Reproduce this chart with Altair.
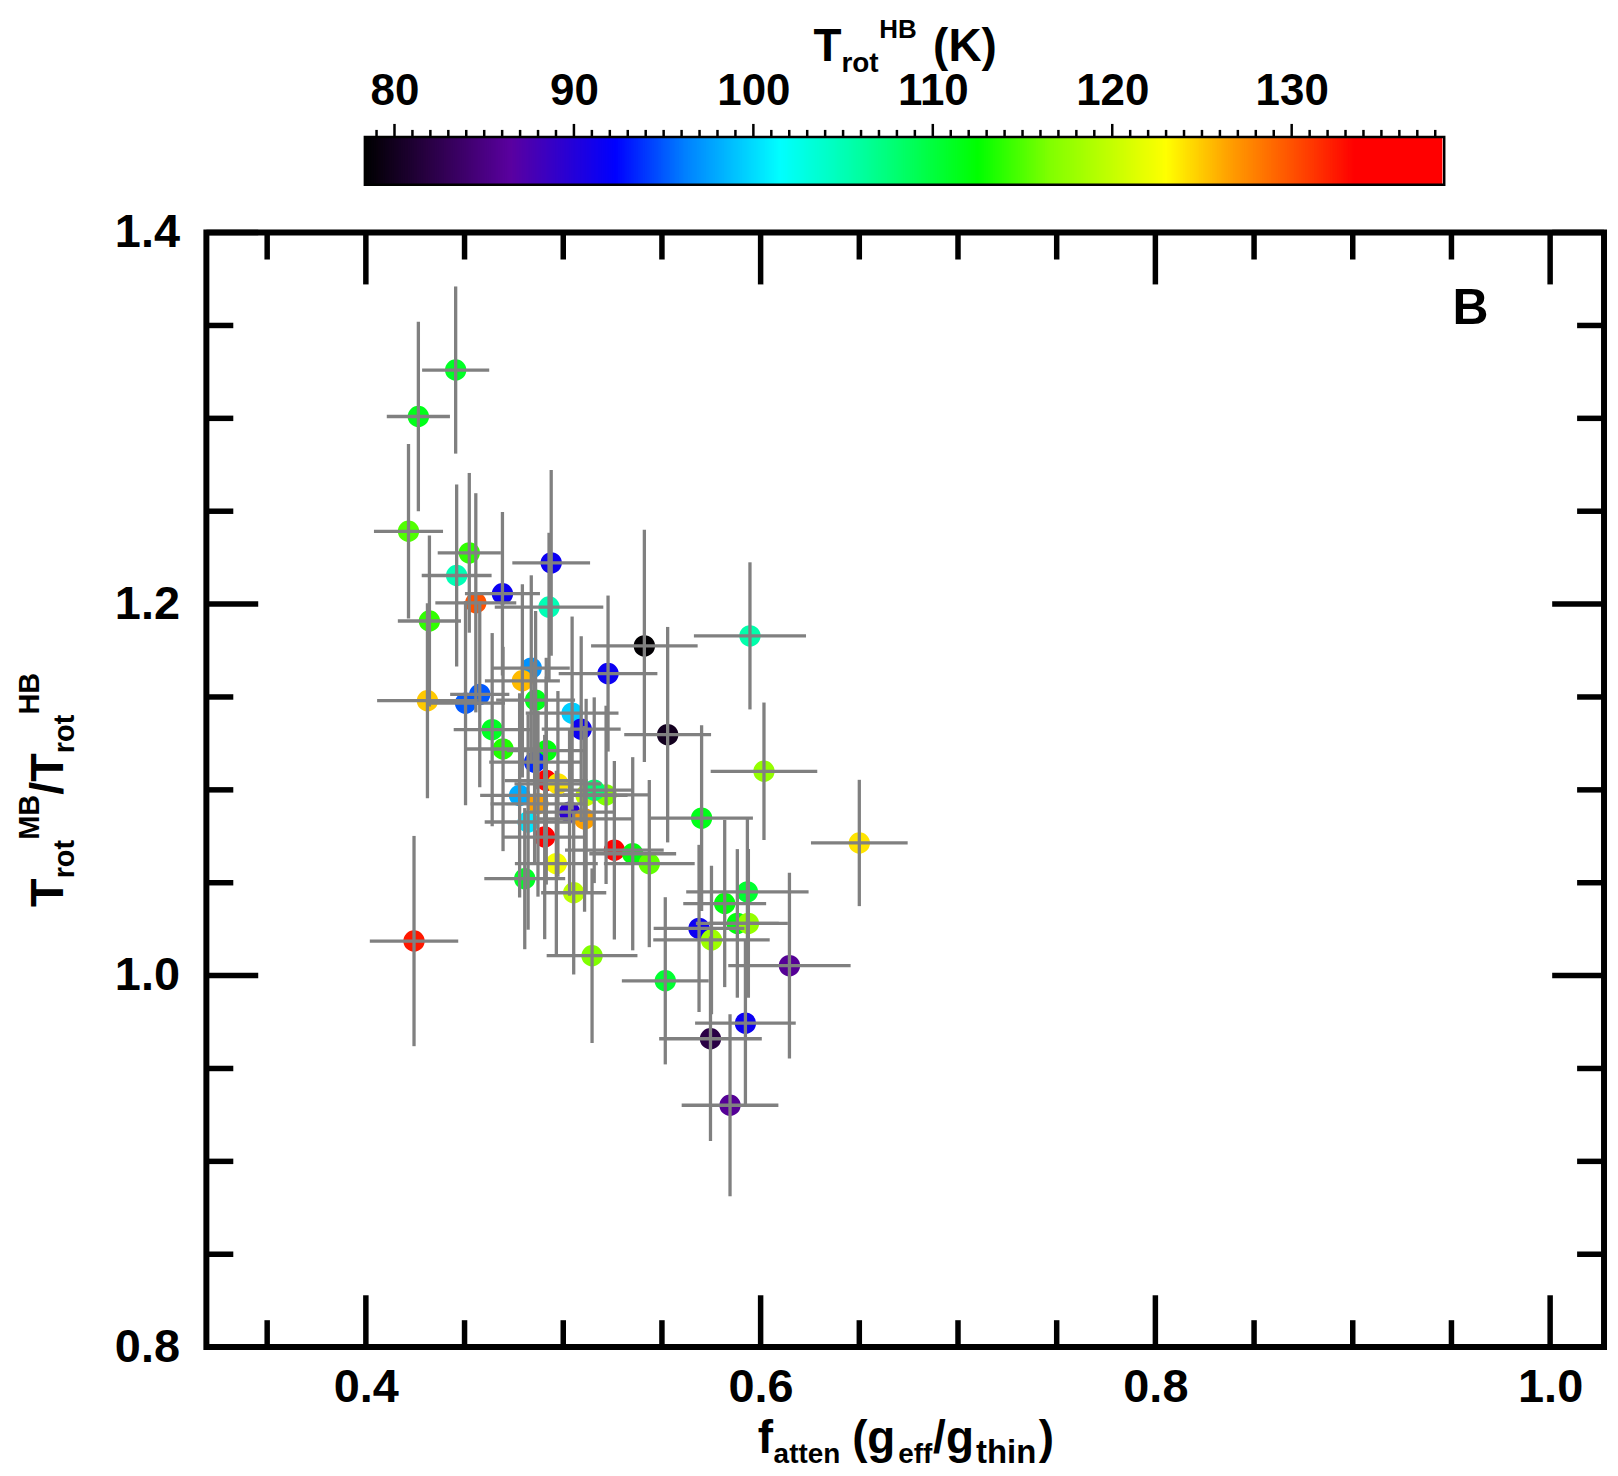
import altair as alt
import numpy as np
import pandas as pd

# ---------------- data ----------------
X = [0.4455, 0.4266, 0.4216, 0.4524, 0.4460, 0.4692, 0.4557, 0.4939, 0.4928, 0.4322,
     0.5411, 0.5227, 0.5946, 0.4838, 0.4793, 0.4312, 0.4505, 0.4577, 0.4860, 0.5045,
     0.5091, 0.5529, 0.4640, 0.4695, 0.4914, 0.4855, 0.6017, 0.4914, 0.4973, 0.4779,
     0.4872, 0.5116, 0.5217, 0.5157, 0.5032, 0.5108, 0.4822, 0.5701, 0.4906, 0.5259,
     0.5352, 0.5436, 0.4965, 0.6500, 0.4805, 0.5053, 0.5933, 0.5818, 0.5882, 0.5938,
     0.5688, 0.5751, 0.5146, 0.5517, 0.6146, 0.4244, 0.5923, 0.5746, 0.5845]
Y = [1.3260, 1.3010, 1.2392, 1.2276, 1.2154, 1.2056, 1.2007, 1.2222, 1.1984, 1.1909,
     1.1775, 1.1626, 1.1829, 1.1655, 1.1587, 1.1480, 1.1467, 1.1514, 1.1483, 1.1413,
     1.1327, 1.1297, 1.1324, 1.1220, 1.1211, 1.1149, 1.1100, 1.1050, 1.1032, 1.0970,
     1.0925, 1.0970, 1.0973, 1.0998, 1.0880, 1.0844, 1.0827, 1.0848, 1.0746, 1.0675,
     1.0656, 1.0603, 1.0603, 1.0714, 1.0522, 1.0446, 1.0451, 1.0388, 1.0281, 1.0281,
     1.0254, 1.0192, 1.0107, 0.9972, 1.0054, 1.0186, 0.9744, 0.9660, 0.9302]
XERR = [0.017, 0.016, 0.0175, 0.016, 0.0177, 0.019, 0.0205, 0.0197, 0.0275, 0.016,
        0.027, 0.025, 0.0284, 0.0195, 0.019, 0.0255, 0.02, 0.015, 0.02, 0.0235,
        0.02, 0.022, 0.0195, 0.019, 0.02, 0.023, 0.027, 0.021, 0.022, 0.02,
        0.024, 0.021, 0.022, 0.02, 0.023, 0.024, 0.022, 0.026, 0.021, 0.025,
        0.022, 0.023, 0.021, 0.0245, 0.0205, 0.0165, 0.031, 0.021, 0.021, 0.02,
        0.023, 0.0295, 0.023, 0.022, 0.031, 0.0224, 0.0255, 0.026, 0.0245]
YERR = [0.045, 0.051, 0.047, 0.043, 0.049, 0.044, 0.059, 0.05, 0.04, 0.046,
        0.0625, 0.042, 0.0396, 0.05, 0.052, 0.0525, 0.055, 0.05, 0.048, 0.052,
        0.05, 0.058, 0.052, 0.055, 0.05, 0.054, 0.037, 0.056, 0.05, 0.055,
        0.05, 0.052, 0.048, 0.05, 0.045, 0.05, 0.058, 0.05, 0.055, 0.048,
        0.052, 0.045, 0.05, 0.034, 0.038, 0.044, 0.04, 0.045, 0.04, 0.04,
        0.045, 0.04, 0.047, 0.045, 0.05, 0.0566, 0.045, 0.055, 0.049]
TROT = [111, 111.5, 115, 114, 105, 91.5, 130, 91.5, 105, 114,
        78.5, 91.5, 105.5, 97, 125.5, 125, 95, 95, 111.5, 99.5,
        91.5, 80, 111, 113.5, 112, 93.5, 117.5, 135, 124, 98,
        126.5, 120, 116.5, 108, 89.5, 126.5, 100.5, 111.5, 135, 135,
        112, 115.5, 122.5, 124, 111, 119.5, 110.5, 112, 112, 117.5,
        91.5, 118, 116.5, 110.5, 86, 132.5, 91.5, 82, 86]

# axis ticks / labels
X_MAJOR = [0.4, 0.6, 0.8, 1.0]
X_MINOR = [0.35, 0.45, 0.5, 0.55, 0.65, 0.7, 0.75, 0.85, 0.9, 0.95]
Y_MAJOR = [0.8, 1.0, 1.2, 1.4]
Y_MINOR = [0.85, 0.9, 0.95, 1.05, 1.1, 1.15, 1.25, 1.3, 1.35]
CB_MAJOR = [80, 90, 100, 110, 120, 130]
CB_MINOR = [t for t in range(79, 139) if t % 10 != 0]
CB_RANGE = [78.35, 138.5]       # colour bar extent (K)
CB_RAMP_END = 138.39            # coloured part ends here (thin white sliver after)

# colour table (rainbow with black start)
C_STOPS = [78.35, 82, 86.5, 92.3, 96.2, 101.5, 106, 112.5, 116.5, 123, 126.5, 130.8, 133.5, 138.5]
C_COLORS = ["#000000", "#2a0045", "#5a00a0", "#0000ff", "#0080ff", "#00ffff", "#00ffa0",
            "#00ff00", "#80ff00", "#ffff00", "#ffa000", "#ff4000", "#ff0000", "#ff0000"]

# ---------------- layout ----------------
FONT = "Liberation Sans, Arial, Helvetica, sans-serif"
W, H = 1402, 1118
XDOM = [0.3192, 1.0273]
YDOM = [0.8, 1.4]
CB_DOM = [69.517, 147.406]
CB_H = 48
MAJ, MIN_ = 52, 27
TICKW = 5.5

df = pd.DataFrame(dict(x=X, y=Y, xe=XERR, ye=YERR, T=TROT))

xs = alt.Scale(domain=XDOM, nice=False, zero=False)
ys = alt.Scale(domain=YDOM, nice=False, zero=False)
cs = alt.Scale(domain=C_STOPS, range=C_COLORS, interpolate="rgb")

X_AX = alt.Axis(values=X_MAJOR, format=".1f", ticks=False, domain=False, grid=False,
                labelFont=FONT, labelFontSize=47, labelFontWeight="bold", labelColor="black",
                labelPadding=18, title=None)
Y_AX = alt.Axis(values=Y_MAJOR, format=".1f", ticks=False, domain=False, grid=False,
                labelFont=FONT, labelFontSize=47, labelFontWeight="bold", labelColor="black",
                labelPadding=27, title=None)


def one():
    return alt.Data(values=[{"k": 0}])


def piece(txt, x, y, size, angle=0):
    return alt.Chart(one()).mark_text(
        text=txt, font=FONT, fontSize=size, fontWeight="bold", align="left",
        baseline="alphabetic", angle=angle, color="black"
    ).encode(x=alt.value(x), y=alt.value(y))


base = alt.Chart(df)
points = base.mark_circle(size=460, opacity=1).encode(
    x=alt.X("x:Q", scale=xs, axis=X_AX),
    y=alt.Y("y:Q", scale=ys, axis=Y_AX),
    color=alt.Color("T:Q", scale=cs, legend=None),
)
xbars = base.mark_rule(color="#808080", strokeWidth=3.3).transform_calculate(
    xlo="datum.x - datum.xe", xhi="datum.x + datum.xe"
).encode(x=alt.X("xlo:Q", scale=xs, axis=X_AX), x2="xhi:Q", y=alt.Y("y:Q", scale=ys, axis=Y_AX))
ybars = base.mark_rule(color="#808080", strokeWidth=3.3).transform_calculate(
    ylo="datum.y - datum.ye", yhi="datum.y + datum.ye"
).encode(x=alt.X("x:Q", scale=xs, axis=X_AX), y=alt.Y("ylo:Q", scale=ys, axis=Y_AX), y2="yhi:Q")


def xticks(vals, length):
    d = alt.Chart(pd.DataFrame({"v": vals}))
    bot = d.mark_rule(color="black", strokeWidth=TICKW).encode(
        x=alt.X("v:Q", scale=xs, axis=X_AX), y=alt.value(H), y2=alt.value(H - length))
    top = d.mark_rule(color="black", strokeWidth=TICKW).encode(
        x=alt.X("v:Q", scale=xs, axis=X_AX), y=alt.value(0), y2=alt.value(length))
    return [bot, top]


def yticks(vals, length):
    d = alt.Chart(pd.DataFrame({"v": vals}))
    lft = d.mark_rule(color="black", strokeWidth=TICKW).encode(
        y=alt.Y("v:Q", scale=ys, axis=Y_AX), x=alt.value(0), x2=alt.value(length))
    rgt = d.mark_rule(color="black", strokeWidth=TICKW).encode(
        y=alt.Y("v:Q", scale=ys, axis=Y_AX), x=alt.value(W), x2=alt.value(W - length))
    return [lft, rgt]


# y title  T_rot^MB / T_rot^HB  (rotated)
ytitle = [
    piece("T", -144, 676.5, 47, 270),
    piece("rot", -133, 647.8, 29, 270),
    piece("MB", -168, 609.1, 29, 270),
    piece("/", -144, 564.0, 47, 270),
    piece("T", -144, 550.9, 47, 270),
    piece("rot", -133, 522.2, 29, 270),
    piece("HB", -168, 483.5, 29, 270),
]
# x title  f_atten (g_eff/g_thin)
xtitle = [
    piece("f", 553, 1224, 46),
    piece("atten", 569, 1234, 28),
    piece("(", 648, 1224, 46),
    piece("g", 663, 1224, 46),
    piece("eff", 694, 1234, 28),
    piece("/", 729, 1224, 46),
    piece("g", 742, 1224, 46),
    piece("thin", 772, 1234, 33),
    piece(")", 835, 1224, 46),
]
panel = alt.Chart(one()).mark_text(
    text="B", font=FONT, fontSize=50, fontWeight="bold", align="center", baseline="alphabetic", color="black"
).encode(x=alt.value(1268), y=alt.value(92))

# invisible anchor fixing the page origin (top-left of the drawing)
anchor = alt.Chart(one()).mark_rect(color="white").encode(
    x=alt.value(-196), x2=alt.value(-195), y=alt.value(-220), y2=alt.value(-219))

main = alt.layer(
    anchor, points, xbars, ybars,
    *xticks(X_MAJOR, MAJ), *xticks(X_MINOR, MIN_),
    *yticks(Y_MAJOR, MAJ), *yticks(Y_MINOR, MIN_),
    panel, *xtitle, *ytitle,
).properties(width=W, height=H, view=alt.ViewBackground(stroke="black", strokeWidth=6))

# ---------------- colour bar ----------------
cbx = alt.Scale(domain=CB_DOM, nice=False, zero=False)
CB_AX = alt.Axis(orient="top", values=CB_MAJOR, format="d", ticks=False, domain=False, grid=False,
                 labelFont=FONT, labelFontSize=44, labelFontWeight="bold", labelColor="black",
                 labelPadding=23, title=None)

t0 = np.round(np.arange(CB_RANGE[0], CB_RAMP_END, 0.1), 3)
ramp_df = pd.DataFrame({"t0": t0, "t1": np.minimum(t0 + 0.15, CB_RAMP_END), "T": t0 + 0.05})
ramp = alt.Chart(ramp_df).mark_rect().encode(
    x=alt.X("t0:Q", scale=cbx, axis=CB_AX), x2="t1:Q",
    y=alt.value(0), y2=alt.value(CB_H),
    color=alt.Color("T:Q", scale=cs, legend=None),
)
border = alt.Chart(pd.DataFrame({"a": [CB_RANGE[0]], "b": [CB_RANGE[1]]})).mark_rect(
    filled=False, color="black", strokeWidth=2.5
).encode(x=alt.X("a:Q", scale=cbx, axis=CB_AX), x2="b:Q", y=alt.value(0), y2=alt.value(CB_H))
cb_major = alt.Chart(pd.DataFrame({"v": CB_MAJOR})).mark_rule(color="black", strokeWidth=2.5).encode(
    x=alt.X("v:Q", scale=cbx, axis=CB_AX), y=alt.value(-13), y2=alt.value(0))
cb_minor = alt.Chart(pd.DataFrame({"v": CB_MINOR})).mark_rule(color="black", strokeWidth=2.5).encode(
    x=alt.X("v:Q", scale=cbx, axis=CB_AX), y=alt.value(-7), y2=alt.value(0))
cbtitle = [
    piece("T", 609, -76, 46),
    piece("rot", 637, -65, 28),
    piece("HB", 675, -99, 26),
    piece("(K)", 729, -76, 46),
]
cbar = alt.layer(ramp, border, cb_major, cb_minor, *cbtitle).properties(
    width=W, height=CB_H, view=alt.ViewBackground(stroke="transparent", strokeWidth=0))

chart = alt.vconcat(cbar, main, spacing=48, bounds="flush").properties(
    padding=0
).configure(font=FONT, background="white")

chart.save("out.html", embed_options={"renderer": "svg", "actions": False})
